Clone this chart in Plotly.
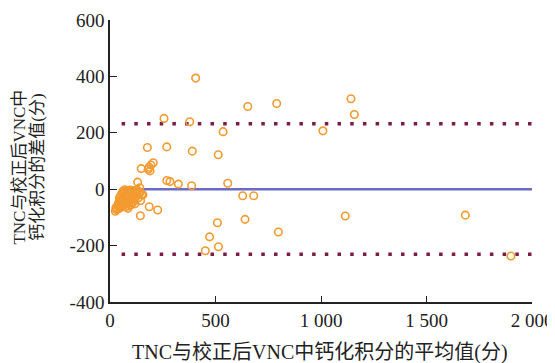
import plotly.graph_objects as go

# Scattered points (mean, difference)
mean_vals = [406, 653, 256, 378, 536, 177, 269, 390, 513, 790, 1142, 1158, 1009,
             205, 194, 186, 181, 148, 190, 131, 269, 284, 324, 387, 141, 156,
             186, 226, 144, 509, 472, 558, 629, 681, 640, 1115, 798, 514, 452,
             1684, 1900]
diff_vals = [394, 293, 251, 239, 204, 148, 150, 135, 122, 304, 321, 265, 207,
             94, 86, 78, 71, 73, 65, 25, 31, 27, 18, 12, 5, -20,
             -62, -74, -94, -119, -169, 21, -23, -23, -107, -95, -152, -204, -218,
             -92, -237]

# Dense cluster near the origin
cluster_mean = [25, 30, 28, 35, 38, 42, 45, 40, 50, 55, 48, 52, 60, 58, 65, 62, 70,
                68, 75, 72, 80, 78, 85, 88, 90, 95, 100, 98, 105, 110, 115, 120,
                112, 125, 130, 135, 140, 145, 150, 60, 70, 80, 90, 100, 45, 55, 65,
                75, 85, 95, 105, 118, 128, 138, 50]
cluster_diff = [-78, -72, -65, -70, -60, -55, -68, -50, -62, -45, -40, -52, -58,
                -35, -48, -30, -40, -55, -25, -62, -45, -20, -35, -50, -10, -28,
                -40, -15, -5, -22, -35, -12, -45, -25, -8, -30, -15, -40, -20, -8,
                -2, -5, -60, -55, -30, -18, -12, -32, -68, -3, -48, -52, -2, -10, -25]

mean_diff = 0
upper_loa = 232
lower_loa = -231
line_x = [55, 2000]

x_tickvals = [0, 500, 1000, 1500, 2000]
x_ticktext = ["0", "500", "1 000", "1 500", "2 000"]
y_tickvals = [-400, -200, 0, 200, 400, 600]
y_ticktext = ["-400", "-200", "0", "200", "400", "600"]

FONT = "Liberation Serif, Times New Roman, Noto Sans CJK SC, serif"
orange = "#f39a30"
maroon = "#7b1b48"
blue = "#6b6bc4"

fig = go.Figure()
fig.add_trace(go.Scatter(x=line_x, y=[upper_loa, upper_loa], mode="lines",
                         line=dict(color=maroon, width=3.5, dash="3.5px,9.2px"),
                         hoverinfo="skip"))
fig.add_trace(go.Scatter(x=line_x, y=[lower_loa, lower_loa], mode="lines",
                         line=dict(color=maroon, width=3.5, dash="3.5px,9.2px"),
                         hoverinfo="skip"))
fig.add_trace(go.Scatter(x=line_x, y=[mean_diff, mean_diff], mode="lines",
                         line=dict(color=blue, width=2.5), hoverinfo="skip"))
fig.add_trace(go.Scatter(x=cluster_mean + mean_vals, y=cluster_diff + diff_vals,
                         mode="markers",
                         marker=dict(symbol="circle-open", size=7.5, color=orange,
                                     line=dict(width=1.6, color=orange))))

fig.update_layout(
    width=547, height=355,
    margin=dict(l=102, r=23, t=12, b=61),
    paper_bgcolor="white", plot_bgcolor="white",
    showlegend=False,
    font=dict(family=FONT, size=19, color="#222"),
    xaxis=dict(range=[0, 2000], tickvals=x_tickvals, ticktext=x_ticktext,
               showgrid=False, zeroline=False, showline=True, linecolor="#222",
               linewidth=1.5, ticks="inside", ticklen=6, tickwidth=1.2,
               tickcolor="#222", tickfont=dict(family=FONT, size=19),
               automargin=False),
    yaxis=dict(range=[-400, 600], tickvals=y_tickvals, ticktext=y_ticktext,
               showgrid=False, zeroline=False, showline=True, linecolor="#222",
               linewidth=1.5, ticks="inside", ticklen=7, tickwidth=1.2,
               tickcolor="#222", tickfont=dict(family=FONT, size=19),
               automargin=False),
    annotations=[
        dict(text="TNC与校正后VNC中钙化积分的平均值(分)", xref="paper", yref="paper",
             x=0.497, y=-0.178, xanchor="center", yanchor="middle", showarrow=False,
             font=dict(family=FONT, size=20, color="#222")),
        dict(text="TNC与校正后VNC中", xref="paper", yref="paper",
             x=-0.214, y=0.479, xanchor="center", yanchor="middle", showarrow=False,
             textangle=-90, font=dict(family=FONT, size=17, color="#222")),
        dict(text="钙化积分的差值(分)", xref="paper", yref="paper",
             x=-0.171, y=0.479, xanchor="center", yanchor="middle", showarrow=False,
             textangle=-90, font=dict(family=FONT, size=17, color="#222")),
    ],
)

fig.write_html("out.html")
